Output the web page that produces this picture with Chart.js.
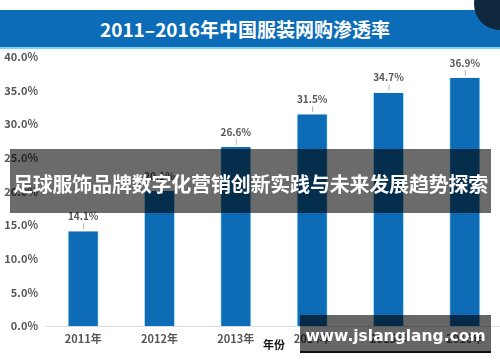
<!DOCTYPE html>
<html>
<head>
<meta charset="utf-8">
<script src="https://cdn.jsdelivr.net/npm/chart.js@4"></script>
<style>
  html, body { margin: 0; padding: 0; background: #fff; }
  #wrap { position: relative; width: 500px; height: 362px; overflow: hidden; font-family: 'Noto Sans CJK SC', sans-serif; }
  #chart { position: absolute; left: 0; top: 0; }
  .title-bar {
    position: absolute; left: 0; top: 10px; width: 500px; height: 37px;
    background: #0d6cb7; border-bottom: 2px solid #7fd3ef;
    color: #fff; font-weight: bold; font-size: 19px; line-height: 37px; text-align: center;
    text-indent: -10px;
  }
  .corner { position: absolute; left: 474px; top: -22px; width: 52px; height: 52px; border-radius: 50%; background: #10283e; }
  .banner {
    position: absolute; left: 10px; top: 149px; width: 481px; height: 64px;
    background: rgba(0,0,0,0.58); color: #fff; font-weight: bold; font-size: 20px;
    line-height: 70px; text-align: center; white-space: nowrap; letter-spacing: -0.2px;
  }
  .mark {
    position: absolute; left: 300px; top: 315px; width: 191px; height: 36px;
    background: rgba(0,0,0,0.6); border-bottom: 2px solid #111; color: #fff;
    font-family: 'DejaVu Sans', sans-serif; font-weight: bold; font-size: 15.5px; line-height: 42px; text-align: center;
  }
</style>
</head>
<body>
<div id="wrap">
  <canvas id="chart" width="503" height="362"></canvas>
  <div class="title-bar">2011–2016年中国服装网购渗透率</div>
  <div class="corner"></div>
  <div class="banner">足球服饰品牌数字化营销创新实践与未来发展趋势探索</div>
  <div class="mark">www.jslanglang.com</div>
</div>
<script>
const YEARS        = ['2011年', '2012年', '2013年', '2014年', '2015年', '2016年'];
const PENETRATION  = [14.1, 20.1, 26.6, 31.5, 34.7, 36.9];
const VALUE_LABELS = ['14.1%', '20.1%', '26.6%', '31.5%', '34.7%', '36.9%'];
const Y_TICKS      = [0, 5, 10, 15, 20, 25, 30, 35, 40];

const BAR_BLUE   = '#0e6cb6';
const TEXT_GRAY  = '#565656';
const FONT       = "'Noto Sans CJK SC', sans-serif";

// value labels above bars, with a short leader line
const barLabels = {
  id: 'barLabels',
  afterDatasetsDraw(chart) {
    const ctx = chart.ctx;
    const meta = chart.getDatasetMeta(0);
    ctx.save();
    meta.data.forEach((bar, i) => {
      ctx.strokeStyle = '#b5b5b5';
      ctx.lineWidth = 1;
      ctx.beginPath();
      ctx.moveTo(bar.x + 0.5, bar.y - 2);
      ctx.lineTo(bar.x + 0.5, bar.y - 8);
      ctx.stroke();
      ctx.fillStyle = TEXT_GRAY;
      ctx.font = 'bold 10px ' + FONT;
      ctx.textAlign = 'center';
      ctx.textBaseline = 'middle';
      ctx.fillText(VALUE_LABELS[i], bar.x, bar.y - 15);
    });
    ctx.restore();
  },
};

new Chart(document.getElementById('chart'), {
  type: 'bar',
  data: {
    labels: YEARS,
    datasets: [{
      data: PENETRATION,
      backgroundColor: BAR_BLUE,
      borderColor: '#bff0fb',
      borderWidth: { left: 1, right: 1, top: 0, bottom: 0 },
      categoryPercentage: 1,
      barPercentage: 0.41,
    }],
  },
  options: {
    responsive: false,
    animation: false,
    layout: { padding: { top: 57, right: 0, left: 0, bottom: 0 } },
    plugins: { legend: { display: false }, tooltip: { enabled: false } },
    scales: {
      x: {
        afterFit: (axis) => { axis.height = 36; },
        grid: { display: false, drawTicks: false },
        border: { display: true, color: '#dcdcdc', width: 1 },
        ticks: { color: TEXT_GRAY, font: { family: FONT, size: 11, weight: 'bold' }, padding: 6 },
        title: {
          display: true, text: '年份', color: '#111',
          font: { family: FONT, size: 11, weight: 'bold' },
          padding: { top: 0, bottom: 11 },
        },
      },
      y: {
        min: 0, max: 40,
        afterFit: (axis) => { axis.width = 45; },
        afterBuildTicks: (axis) => { axis.ticks = Y_TICKS.map((v) => ({ value: v })); },
        grid: { display: false, drawTicks: false },
        border: { display: false },
        ticks: {
          color: TEXT_GRAY, padding: 7,
          font: { family: FONT, size: 11, weight: 'bold' },
          callback: (v) => v.toFixed(1) + '%',
        },
      },
    },
  },
  plugins: [barLabels],
});
</script>
</body>
</html>
